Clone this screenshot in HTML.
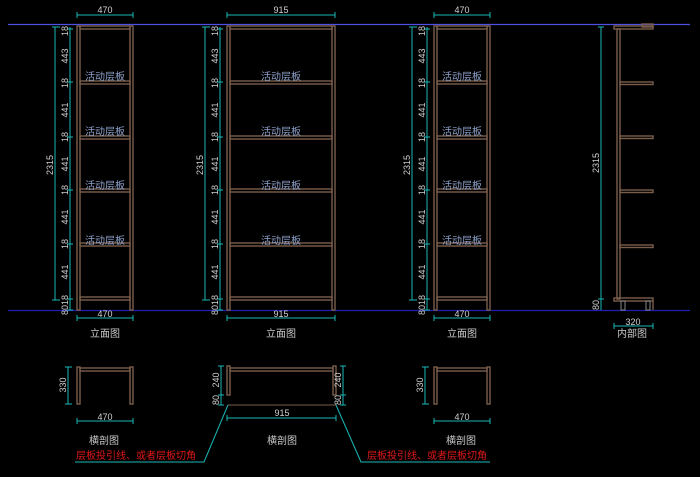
<!DOCTYPE html>
<html><head><meta charset="utf-8"><style>
html,body{margin:0;padding:0;background:#000;}
svg{display:block;}
text{font-family:"Liberation Sans","Noto Sans CJK SC",sans-serif;}
.f{fill:none;stroke:#7a5e4c;stroke-width:1.4}
.c{stroke:#1ab8b8;stroke-width:1;fill:none}
.d{fill:#d0d0d0;font-size:9px}
.l{fill:#8ea2cc;font-size:10px}
.t{fill:#c8c8c8;font-size:10px}
.r{fill:#e01818;font-size:10px}
</style></head><body>
<svg width="700" height="477" viewBox="0 0 700 477" xmlns="http://www.w3.org/2000/svg">
<rect width="700" height="477" fill="#000"/>
<line x1="8" y1="24.5" x2="690" y2="24.5" stroke="#5050e0" stroke-width="1.2"/>
<line x1="8" y1="310.5" x2="690" y2="310.5" stroke="#2020b0" stroke-width="1.2"/>

<!-- Cabinet A -->
<g>
<rect class="f" x="77" y="26" width="3" height="284"/>
<rect class="f" x="130" y="26" width="3" height="284"/>
<rect class="f" x="80" y="26" width="50" height="3"/>
<rect class="f" x="80" y="81" width="50" height="3"/>
<rect class="f" x="80" y="136" width="50" height="3"/>
<rect class="f" x="80" y="189" width="50" height="3"/>
<rect class="f" x="80" y="243" width="50" height="3"/>
<rect class="f" x="80" y="297" width="50" height="3"/>
<text class="l" x="105" y="80" text-anchor="middle">活动层板</text>
<text class="l" x="105" y="135" text-anchor="middle">活动层板</text>
<text class="l" x="105" y="189" text-anchor="middle">活动层板</text>
<text class="l" x="105" y="244" text-anchor="middle">活动层板</text>
<line class="c" x1="77" y1="15" x2="133" y2="15"/><line class="c" x1="77" y1="12" x2="77" y2="18"/><line class="c" x1="133" y1="12" x2="133" y2="18"/>
<text class="d" x="105" y="13" text-anchor="middle">470</text>
<line class="c" x1="77" y1="318" x2="133" y2="318"/><line class="c" x1="77" y1="315" x2="77" y2="321"/><line class="c" x1="133" y1="315" x2="133" y2="321"/>
<text class="d" x="105" y="317" text-anchor="middle">470</text>
<text class="t" x="105" y="337" text-anchor="middle">立面图</text>
<line class="c" x1="55" y1="27" x2="55" y2="300"/><line class="c" x1="52" y1="27" x2="60" y2="27"/><line class="c" x1="52" y1="300" x2="60" y2="300"/>
<text class="d" transform="translate(53,165) rotate(-90)" text-anchor="middle">2315</text>
<line class="c" x1="70" y1="27" x2="70" y2="310"/>
<g class="c"><line x1="67" y1="29" x2="73" y2="29"/><line x1="67" y1="82" x2="73" y2="82"/><line x1="67" y1="137" x2="73" y2="137"/><line x1="67" y1="190" x2="73" y2="190"/><line x1="67" y1="244" x2="73" y2="244"/><line x1="67" y1="299" x2="73" y2="299"/><line x1="67" y1="310" x2="73" y2="310"/></g>
<g class="d" text-anchor="middle">
<text transform="translate(68,31) rotate(-90)">18</text><text transform="translate(68,56) rotate(-90)">443</text><text transform="translate(68,83) rotate(-90)">18</text><text transform="translate(68,110) rotate(-90)">441</text><text transform="translate(68,137) rotate(-90)">18</text><text transform="translate(68,164) rotate(-90)">441</text><text transform="translate(68,190) rotate(-90)">18</text><text transform="translate(68,217) rotate(-90)">441</text><text transform="translate(68,244) rotate(-90)">18</text><text transform="translate(68,272) rotate(-90)">441</text><text transform="translate(68,305) rotate(-90)">8018</text>
</g>
</g>

<!-- Cabinet B -->
<g>
<rect class="f" x="227" y="26" width="3" height="284"/>
<rect class="f" x="332" y="26" width="3" height="284"/>
<rect class="f" x="230" y="26" width="102" height="3"/>
<rect class="f" x="230" y="81" width="102" height="3"/>
<rect class="f" x="230" y="136" width="102" height="3"/>
<rect class="f" x="230" y="189" width="102" height="3"/>
<rect class="f" x="230" y="243" width="102" height="3"/>
<rect class="f" x="230" y="297" width="102" height="3"/>
<text class="l" x="281" y="80" text-anchor="middle">活动层板</text>
<text class="l" x="281" y="135" text-anchor="middle">活动层板</text>
<text class="l" x="281" y="189" text-anchor="middle">活动层板</text>
<text class="l" x="281" y="244" text-anchor="middle">活动层板</text>
<line class="c" x1="227" y1="15" x2="335" y2="15"/><line class="c" x1="227" y1="12" x2="227" y2="18"/><line class="c" x1="335" y1="12" x2="335" y2="18"/>
<text class="d" x="281" y="13" text-anchor="middle">915</text>
<line class="c" x1="227" y1="318" x2="335" y2="318"/><line class="c" x1="227" y1="315" x2="227" y2="321"/><line class="c" x1="335" y1="315" x2="335" y2="321"/>
<text class="d" x="281" y="317" text-anchor="middle">915</text>
<text class="t" x="281" y="337" text-anchor="middle">立面图</text>
<line class="c" x1="205" y1="27" x2="205" y2="300"/><line class="c" x1="202" y1="27" x2="210" y2="27"/><line class="c" x1="202" y1="300" x2="210" y2="300"/>
<text class="d" transform="translate(203,165) rotate(-90)" text-anchor="middle">2315</text>
<line class="c" x1="220" y1="27" x2="220" y2="310"/>
<g class="c"><line x1="217" y1="29" x2="223" y2="29"/><line x1="217" y1="82" x2="223" y2="82"/><line x1="217" y1="137" x2="223" y2="137"/><line x1="217" y1="190" x2="223" y2="190"/><line x1="217" y1="244" x2="223" y2="244"/><line x1="217" y1="299" x2="223" y2="299"/><line x1="217" y1="310" x2="223" y2="310"/></g>
<g class="d" text-anchor="middle">
<text transform="translate(218,31) rotate(-90)">18</text><text transform="translate(218,56) rotate(-90)">443</text><text transform="translate(218,83) rotate(-90)">18</text><text transform="translate(218,110) rotate(-90)">441</text><text transform="translate(218,137) rotate(-90)">18</text><text transform="translate(218,164) rotate(-90)">441</text><text transform="translate(218,190) rotate(-90)">18</text><text transform="translate(218,217) rotate(-90)">441</text><text transform="translate(218,244) rotate(-90)">18</text><text transform="translate(218,272) rotate(-90)">441</text><text transform="translate(218,305) rotate(-90)">8018</text>
</g>
</g>

<!-- Cabinet C -->
<g>
<rect class="f" x="434" y="26" width="3" height="284"/>
<rect class="f" x="487" y="26" width="3" height="284"/>
<rect class="f" x="437" y="26" width="50" height="3"/>
<rect class="f" x="437" y="81" width="50" height="3"/>
<rect class="f" x="437" y="136" width="50" height="3"/>
<rect class="f" x="437" y="189" width="50" height="3"/>
<rect class="f" x="437" y="243" width="50" height="3"/>
<rect class="f" x="437" y="297" width="50" height="3"/>
<text class="l" x="462" y="80" text-anchor="middle">活动层板</text>
<text class="l" x="462" y="135" text-anchor="middle">活动层板</text>
<text class="l" x="462" y="189" text-anchor="middle">活动层板</text>
<text class="l" x="462" y="244" text-anchor="middle">活动层板</text>
<line class="c" x1="434" y1="15" x2="490" y2="15"/><line class="c" x1="434" y1="12" x2="434" y2="18"/><line class="c" x1="490" y1="12" x2="490" y2="18"/>
<text class="d" x="462" y="13" text-anchor="middle">470</text>
<line class="c" x1="434" y1="318" x2="490" y2="318"/><line class="c" x1="434" y1="315" x2="434" y2="321"/><line class="c" x1="490" y1="315" x2="490" y2="321"/>
<text class="d" x="462" y="317" text-anchor="middle">470</text>
<text class="t" x="462" y="337" text-anchor="middle">立面图</text>
<line class="c" x1="412" y1="27" x2="412" y2="300"/><line class="c" x1="409" y1="27" x2="417" y2="27"/><line class="c" x1="409" y1="300" x2="417" y2="300"/>
<text class="d" transform="translate(410,165) rotate(-90)" text-anchor="middle">2315</text>
<line class="c" x1="427" y1="27" x2="427" y2="310"/>
<g class="c"><line x1="424" y1="29" x2="430" y2="29"/><line x1="424" y1="82" x2="430" y2="82"/><line x1="424" y1="137" x2="430" y2="137"/><line x1="424" y1="190" x2="430" y2="190"/><line x1="424" y1="244" x2="430" y2="244"/><line x1="424" y1="299" x2="430" y2="299"/><line x1="424" y1="310" x2="430" y2="310"/></g>
<g class="d" text-anchor="middle">
<text transform="translate(425,31) rotate(-90)">18</text><text transform="translate(425,56) rotate(-90)">443</text><text transform="translate(425,83) rotate(-90)">18</text><text transform="translate(425,110) rotate(-90)">441</text><text transform="translate(425,137) rotate(-90)">18</text><text transform="translate(425,164) rotate(-90)">441</text><text transform="translate(425,190) rotate(-90)">18</text><text transform="translate(425,217) rotate(-90)">441</text><text transform="translate(425,244) rotate(-90)">18</text><text transform="translate(425,272) rotate(-90)">441</text><text transform="translate(425,305) rotate(-90)">8018</text>
</g>
</g>

<!-- Side view -->
<g>
<rect class="f" x="617" y="29" width="3" height="270"/>
<rect class="f" x="614" y="26" width="39" height="3"/>
<rect class="f" x="642" y="24" width="11" height="3"/>
<rect class="f" x="620" y="82" width="33" height="2.5"/>
<rect class="f" x="620" y="136" width="33" height="2.5"/>
<rect class="f" x="620" y="190" width="33" height="2.5"/>
<rect class="f" x="620" y="245" width="33" height="2.5"/>
<rect class="f" x="614" y="298" width="39" height="3"/>
<line class="f" x1="653" y1="301" x2="653" y2="310"/>
<rect x="621" y="301" width="4" height="9" fill="none" stroke="#888" stroke-width="1"/>
<rect x="646" y="301" width="4" height="9" fill="none" stroke="#888" stroke-width="1"/>
<line class="c" x1="601" y1="27" x2="601" y2="310"/><line class="c" x1="598" y1="27" x2="604" y2="27"/><line class="c" x1="598" y1="299" x2="604" y2="299"/>
<text class="d" transform="translate(599,163) rotate(-90)" text-anchor="middle">2315</text>
<text class="d" transform="translate(599,305) rotate(-90)" text-anchor="middle">80</text>
<line class="c" x1="614" y1="326" x2="653" y2="326"/><line class="c" x1="614" y1="323" x2="614" y2="329"/><line class="c" x1="653" y1="323" x2="653" y2="329"/>
<text class="d" x="633" y="325" text-anchor="middle">320</text>
<text class="t" x="632" y="337" text-anchor="middle">内部图</text>
</g>

<!-- Cross section A -->
<g>
<rect class="f" x="77" y="367" width="3" height="37"/>
<rect class="f" x="130" y="367" width="3" height="37"/>
<rect class="f" x="80" y="368" width="50" height="3"/>
<line class="c" x1="68" y1="367" x2="68" y2="404"/><line class="c" x1="65" y1="367" x2="72" y2="367"/><line class="c" x1="65" y1="404" x2="72" y2="404"/>
<text class="d" transform="translate(66,385) rotate(-90)" text-anchor="middle">330</text>
<line class="c" x1="77" y1="421" x2="133" y2="421"/><line class="c" x1="77" y1="418" x2="77" y2="424"/><line class="c" x1="133" y1="418" x2="133" y2="424"/>
<text class="d" x="105" y="420" text-anchor="middle">470</text>
<text class="t" x="104" y="444" text-anchor="middle">横剖图</text>
</g>

<!-- Cross section B -->
<g>
<rect class="f" x="227" y="366" width="3" height="29"/>
<rect class="f" x="333" y="366" width="3" height="29"/>
<rect class="f" x="230" y="368" width="103" height="3"/>
<line x1="228" y1="405" x2="336" y2="405" stroke="#7a5e4c" stroke-width="1"/>
<line class="c" x1="221" y1="366" x2="221" y2="405"/><line class="c" x1="218" y1="366" x2="224" y2="366"/><line class="c" x1="218" y1="395" x2="224" y2="395"/><line class="c" x1="218" y1="405" x2="224" y2="405"/>
<text class="d" transform="translate(219,380) rotate(-90)" text-anchor="middle">240</text>
<text class="d" transform="translate(219,400) rotate(-90)" text-anchor="middle">80</text>
<line class="c" x1="343" y1="366" x2="343" y2="405"/><line class="c" x1="340" y1="366" x2="346" y2="366"/><line class="c" x1="340" y1="395" x2="346" y2="395"/><line class="c" x1="340" y1="405" x2="346" y2="405"/>
<text class="d" transform="translate(341,380) rotate(-90)" text-anchor="middle">240</text>
<text class="d" transform="translate(341,400) rotate(-90)" text-anchor="middle">80</text>
<line class="c" x1="227" y1="418" x2="336" y2="418"/><line class="c" x1="227" y1="415" x2="227" y2="421"/><line class="c" x1="336" y1="415" x2="336" y2="421"/>
<text class="d" x="282" y="416" text-anchor="middle">915</text>
<text class="t" x="282" y="444" text-anchor="middle">横剖图</text>
<polyline class="c" points="228,405 204,462 75,462"/>
<polyline class="c" points="336,405 361,462 490,462"/>
<text class="r" x="76" y="459">层板投引线、或者层板切角</text>
<text class="r" x="367" y="459">层板投引线、或者层板切角</text>
</g>

<!-- Cross section C -->
<g>
<rect class="f" x="434" y="367" width="3" height="37"/>
<rect class="f" x="487" y="367" width="3" height="37"/>
<rect class="f" x="437" y="368" width="50" height="3"/>
<line class="c" x1="425" y1="367" x2="425" y2="404"/><line class="c" x1="422" y1="367" x2="429" y2="367"/><line class="c" x1="422" y1="404" x2="429" y2="404"/>
<text class="d" transform="translate(423,385) rotate(-90)" text-anchor="middle">330</text>
<line class="c" x1="434" y1="421" x2="490" y2="421"/><line class="c" x1="434" y1="418" x2="434" y2="424"/><line class="c" x1="490" y1="418" x2="490" y2="424"/>
<text class="d" x="462" y="420" text-anchor="middle">470</text>
<text class="t" x="461" y="444" text-anchor="middle">横剖图</text>
</g>
</svg>
</body></html>
